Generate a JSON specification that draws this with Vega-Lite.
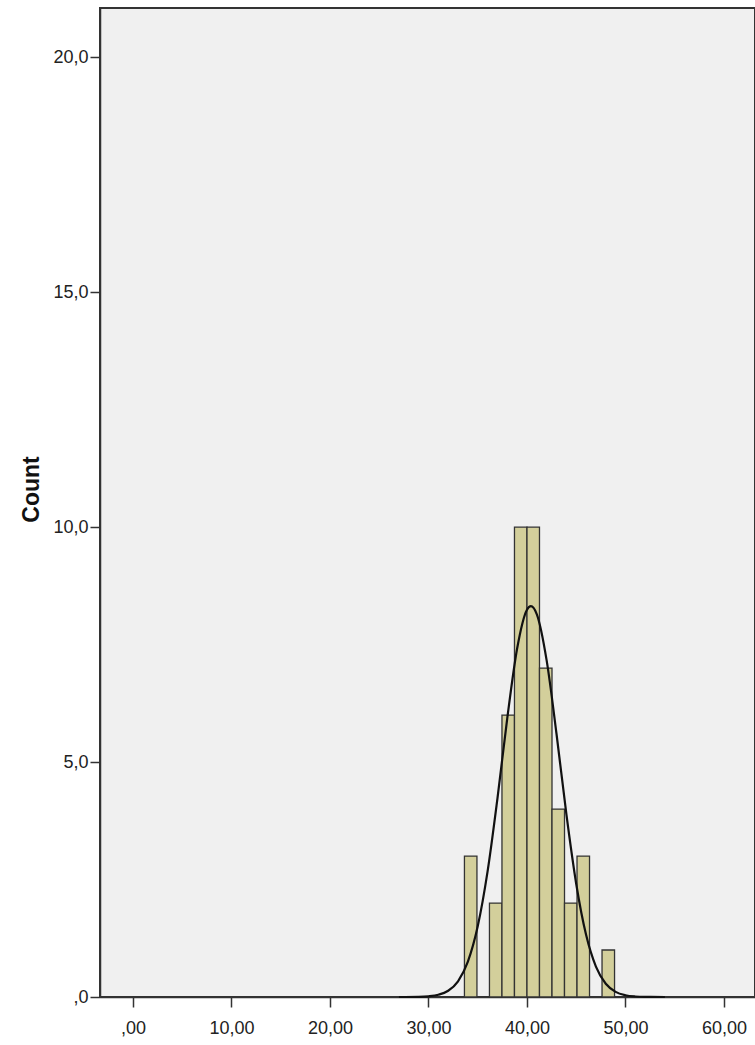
{
  "$schema": "https://vega.github.io/schema/vega-lite/v6.json",
  "width": 655,
  "height": 989,
  "autosize": {"type": "none"},
  "padding": {"left": 100, "top": 8, "right": 0, "bottom": 48},
  "background": "white",
  "config": {
    "view": {"fill": "#f0f0f0", "stroke": "#333333", "strokeWidth": 2},
    "axis": {
      "domainColor": "#333333",
      "domainWidth": 1.5,
      "tickColor": "#333333",
      "tickWidth": 1.5,
      "tickSize": 10,
      "grid": false,
      "labelFont": "Liberation Sans, Arial",
      "labelFontSize": 18,
      "labelColor": "#222222",
      "titleFont": "Liberation Sans, Arial",
      "titleColor": "#111111"
    }
  },
  "datasets": {
    "bins": [
      {"bin_start": 33.65, "bin_end": 34.92, "count": 3},
      {"bin_start": 36.19, "bin_end": 37.46, "count": 2},
      {"bin_start": 37.46, "bin_end": 38.73, "count": 6},
      {"bin_start": 38.73, "bin_end": 40.0, "count": 10},
      {"bin_start": 40.0, "bin_end": 41.27, "count": 10},
      {"bin_start": 41.27, "bin_end": 42.54, "count": 7},
      {"bin_start": 42.54, "bin_end": 43.81, "count": 4},
      {"bin_start": 43.81, "bin_end": 45.08, "count": 2},
      {"bin_start": 45.08, "bin_end": 46.35, "count": 3},
      {"bin_start": 47.62, "bin_end": 48.89, "count": 1}
    ],
    "curve": [
      {"x": 27, "density": 0.0}, {"x": 29, "density": 0.004}, {"x": 30, "density": 0.015},
      {"x": 31, "density": 0.047}, {"x": 32, "density": 0.133}, {"x": 33, "density": 0.335},
      {"x": 34, "density": 0.753}, {"x": 35, "density": 1.505}, {"x": 36, "density": 2.674},
      {"x": 37, "density": 4.224}, {"x": 38, "density": 5.934}, {"x": 39, "density": 7.416},
      {"x": 40, "density": 8.243}, {"x": 40.4, "density": 8.32}, {"x": 41, "density": 8.146},
      {"x": 42, "density": 7.16}, {"x": 43, "density": 5.598}, {"x": 44, "density": 3.891},
      {"x": 45, "density": 2.406}, {"x": 46, "density": 1.323}, {"x": 47, "density": 0.647},
      {"x": 48, "density": 0.281}, {"x": 49, "density": 0.109}, {"x": 50, "density": 0.037},
      {"x": 51, "density": 0.011}, {"x": 52, "density": 0.003}, {"x": 54, "density": 0.0}
    ]
  },
  "layer": [
    {
      "data": {"name": "bins"},
      "mark": {"type": "rect", "fill": "#d3cf9b", "stroke": "#333333", "strokeWidth": 1.3},
      "encoding": {
        "x": {
          "field": "bin_start", "type": "quantitative",
          "scale": {"domain": [-3.35, 63.15], "nice": false, "zero": false},
          "axis": {
            "title": null,
            "values": [0, 10, 20, 30, 40, 50, 60],
            "labelPadding": 12,
            "labelExpr": "datum.value == 0 ? ',00' : replace(format(datum.value, '.2f'), '.', ',')"
          }
        },
        "x2": {"field": "bin_end"},
        "y": {
          "field": "count", "type": "quantitative",
          "scale": {"domain": [0, 21.05], "nice": false},
          "axis": {
            "title": "Count",
            "titleFontSize": 23,
            "titleFontWeight": "bold",
            "titleAngle": -90,
            "titleAlign": "center",
            "titleBaseline": "alphabetic",
            "titleX": -62,
            "titleY": 481,
            "values": [0, 5, 10, 15, 20],
            "labelPadding": 2,
            "labelExpr": "datum.value == 0 ? ',0' : replace(format(datum.value, '.1f'), '.', ',')"
          }
        }
      }
    },
    {
      "data": {"name": "curve"},
      "mark": {"type": "line", "color": "#111111", "strokeWidth": 2.2, "interpolate": "monotone"},
      "encoding": {
        "x": {"field": "x", "type": "quantitative"},
        "y": {"field": "density", "type": "quantitative"}
      }
    }
  ]
}
